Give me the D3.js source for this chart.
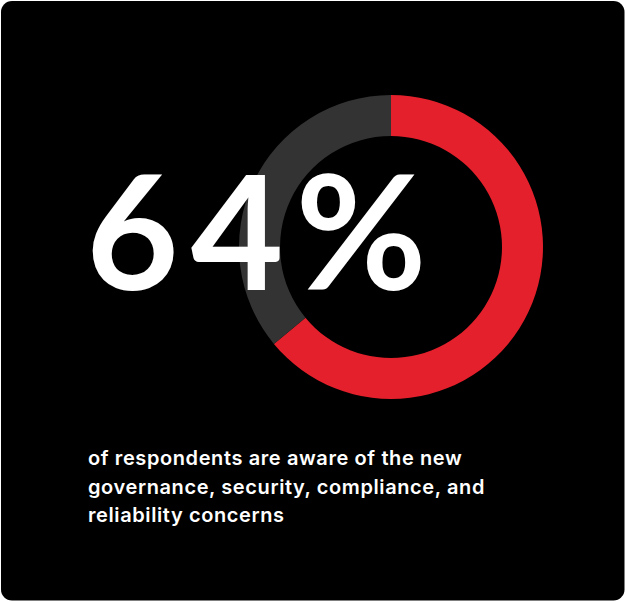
<!DOCTYPE html>
<html>
<head>
<meta charset="utf-8">
<script src="https://cdn.jsdelivr.net/npm/d3@7"></script>
<style>
  html, body { margin: 0; padding: 0; background: #ffffff; }
  svg { display: block; }
</style>
</head>
<body>
<svg id="chart" width="625" height="601"></svg>
<script>
// Share of respondents aware vs. not aware
const categories = ["Aware", "Not aware"];
const values = [64, 36];
const colors = ["#e3202b", "#333333"];
const headline = "64%";
const captionLines = [
  "of respondents are aware of the new",
  "governance, security, compliance, and",
  "reliability concerns"
];

const svg = d3.select("#chart");
const W = 625, H = 601;

// card background
svg.append("rect")
  .attr("x", 1).attr("y", 1)
  .attr("width", W - 1.5).attr("height", H - 1.5)
  .attr("rx", 11).attr("ry", 11)
  .attr("fill", "#000000");

// donut
const cx = 391, cy = 247;
const pie = d3.pie().sort(null).value(d => d.value);
const arc = d3.arc().innerRadius(111).outerRadius(152);
const data = categories.map((c, i) => ({ name: c, value: values[i] }));

svg.append("g")
  .attr("transform", `translate(${cx},${cy})`)
  .selectAll("path")
  .data(pie(data))
  .join("path")
  .attr("d", arc)
  .attr("fill", (d, i) => colors[i]);

// headline figure
svg.append("text")
  .attr("x", 86).attr("y", 290)
  .attr("fill", "#ffffff")
  .attr("font-family", "Lato, 'Noto Sans', sans-serif")
  .attr("font-weight", 700)
  .attr("font-size", 160)
  .attr("letter-spacing", 12)
  .text(headline);

// caption
const cap = svg.append("text")
  .attr("fill", "#ffffff")
  .attr("font-family", "Inter, 'Noto Sans', sans-serif")
  .attr("font-weight", 600)
  .attr("font-size", 20)
  .attr("letter-spacing", 0.6);
cap.selectAll("tspan")
  .data(captionLines)
  .join("tspan")
  .attr("x", 88)
  .attr("y", (d, i) => 465 + i * 28.5)
  .text(d => d);
</script>
</body>
</html>
